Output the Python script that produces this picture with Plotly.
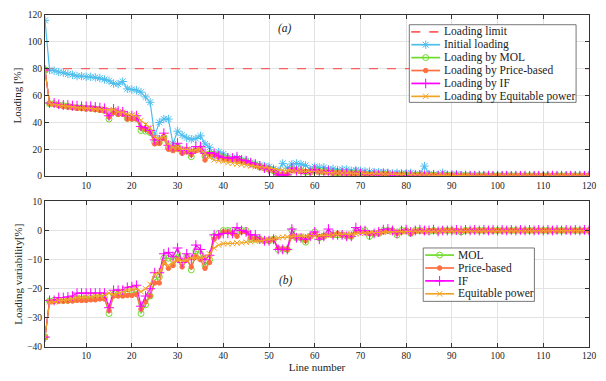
import plotly.graph_objects as go

lines = list(range(1, 121))
limit_value = 80

initial = [116, 79, 78.5, 77.5, 77, 76, 75.5, 74.5, 74.5, 74,
           74, 73.5, 73, 72, 71, 69, 68.5, 70.5, 65, 64.5,
           64, 62.5, 59, 55, 30, 40, 42.5, 42.5, 24, 33.5,
           30.5, 28.5, 27.5, 28, 30, 24, 21.5, 15, 18, 16.5,
           14, 13, 13.5, 12, 11.5, 10, 9, 8, 7.5, 7,
           5.5, 4, 9.5, 6, 9, 9.5, 9, 8, 5, 7,
           6.5, 6.5, 5, 5.5, 4.5, 5, 5, 4, 4.5, 4,
           3.5, 3.5, 3, 3, 3, 2.5, 2, 2.5, 2, 2,
           2.5, 1.5, 1.5, 7.5, 1.5, 1.2, 1, 2.5, 1, 1,
           1.5, 0.8, 0.7, 0.6, 0.6, 0.5, 0.5, 0.5, 0.4, 0.4,
           0.4, 0.4, 0.3, 0.3, 0.3, 0.3, 0.3, 0.3, 0.3, 0.3,
           0.3, 0.3, 0.3, 0.3, 0.3, 0.3, 0.3, 0.3, 0.3, 0.3]

load_mol = [79, 54, 54, 53, 52.5, 52, 51.5, 51, 51, 50.5,
            50.5, 50, 49.5, 49, 42.5, 48, 46.5, 47, 43, 43,
            43, 34, 33.5, 32.5, 25, 25, 29, 21, 20, 22,
            18, 19, 14.5, 20, 20.5, 15, 16.5, 16.5, 15, 14,
            13, 12.5, 12.5, 11.5, 11, 9.5, 8.5, 7, 6, 5,
            4, 1, 1, 1, 5, 4.5, 4, 3, 3, 4.5,
            3.5, 3.5, 3, 2.5, 2.5, 2.5, 2, 2, 2.5, 2,
            1.5, 0.5, 1, 1, 1.5, 1.5, 1, 0.2, 1, 1,
            0.5, 0.8, 0.8, 0.7, 0.5, 0.8, 0.4, 0.6, 0.5, 0.4,
            0.5, 0.2, 0.4, 0.3, 0.3, 0.3, 0.3, 0.3, 0.3, 0.3,
            0.3, 0.3, 0.3, 0.3, 0.3, 0.3, 0.3, 0.3, 0.3, 0.3,
            0.3, 0.3, 0.3, 0.3, 0.3, 0.3, 0.3, 0.3, 0.3, 0.3]

load_price = [79, 54, 53.5, 52.5, 52, 51.5, 51, 50.5, 50.5, 50,
              50, 49.5, 49, 48.5, 44, 47.5, 46, 46, 42.5, 42.5,
              42.5, 36, 35, 33, 24, 24.5, 28, 20, 19, 20,
              17, 18, 16, 19, 19.5, 12, 16, 16, 14.5, 13,
              13, 12.5, 12, 11, 10.5, 9, 8, 7, 6, 5,
              4, 1.5, 1.5, 1.5, 4, 4, 3.5, 3.5, 3, 4,
              3.5, 3, 3, 2.5, 2.5, 2.5, 2, 2, 2, 2,
              1.5, 1.5, 1, 1, 1.5, 1.5, 1, 1, 1, 0.5,
              0.5, 0.7, 0.8, 0.8, 0.6, 0.6, 0.5, 0.6, 0.5, 0.4,
              0.4, 0.3, 0.3, 0.3, 0.3, 0.3, 0.3, 0.3, 0.3, 0.3,
              0.3, 0.3, 0.3, 0.3, 0.3, 0.3, 0.3, 0.3, 0.3, 0.3,
              0.3, 0.3, 0.3, 0.3, 0.3, 0.3, 0.3, 0.3, 0.3, 0.3]

load_if = [79, 54.5, 54.5, 53.5, 53, 53, 52.5, 52.5, 52, 52,
           52, 51.5, 51, 50.5, 45, 50, 48.5, 48, 45, 45,
           45, 37, 36, 34, 27, 27, 32, 23, 22, 24.5,
           19, 21, 17, 22, 22, 17, 17.5, 17, 15, 14,
           13.5, 13.5, 14.5, 12, 11.5, 10, 9, 7.5, 6, 5,
           4, 1, 1, 1, 6, 4, 4, 2, 3, 5,
           2.5, 3.5, 4, 2.5, 2.5, 2.5, 2, 1.5, 3, 2,
           1.5, 1, 1.5, 1, 1.5, 1.5, 0.5, 0.5, 1, 1,
           0.8, 0.4, 0.9, 0.6, 0.5, 1, 0.3, 0.5, 0.3, 0.4,
           0.5, 0.2, 0.4, 0.3, 0.2, 0.4, 0.2, 0.3, 0.2, 0.3,
           0.2, 0.3, 0.2, 0.3, 0.2, 0.3, 0.2, 0.3, 0.2, 0.3,
           0.2, 0.3, 0.2, 0.3, 0.2, 0.3, 0.2, 0.3, 0.2, 0.3]

load_eq = [79, 54, 53.5, 53, 52.5, 52, 51.5, 51, 51, 50.5,
           50.5, 50, 50, 49.5, 49.5, 49.5, 48, 47.5, 46, 45.5,
           45, 41.5, 38.5, 36, 29, 28, 30, 24, 21.5, 22,
           20, 20, 19, 19.5, 20, 17, 14, 12, 11.5, 11,
           10, 9.5, 9, 8.5, 8, 7.5, 7, 6.5, 6, 5.5,
           5, 4.5, 4.5, 4, 4, 3.8, 3.6, 3.4, 3.2, 3,
           3, 2.8, 2.6, 2.5, 2.4, 2.3, 2.2, 2.1, 2, 1.9,
           1.8, 1.7, 1.6, 1.5, 1.4, 1.3, 1.2, 1.1, 1.0, 1.0,
           0.9, 0.8, 0.8, 0.7, 0.7, 0.6, 0.6, 0.6, 0.5, 0.5,
           0.5, 0.4, 0.4, 0.4, 0.4, 0.3, 0.3, 0.3, 0.3, 0.3,
           0.3, 0.3, 0.3, 0.3, 0.3, 0.3, 0.3, 0.3, 0.3, 0.3,
           0.3, 0.3, 0.3, 0.3, 0.3, 0.3, 0.3, 0.3, 0.3, 0.3]

var_mol = [-36.6, -24.2, -24, -24, -24, -24, -23.8, -23.5, -23.5, -23.5,
           -23.3, -23.3, -23, -23, -28.5, -22, -22, -22, -21.8, -21.5,
           -21, -28.5, -25.5, -22.5, -17, -16, -9.5, -9.5, -10, -8,
           -11, -9, -13.5, -7, -8, -12, -10, -2, -1, 0,
           0, 0, 0, 0, 0, -3, -3, -3, -3.5, -3.5,
           -3, -6.5, -6.5, -6.5, 0, -2.5, -2.5, -4, -2, -0.5,
           -2.5, -2, -1, -1.5, -1.5, -1.5, -2, -2, 0, 0,
           0, -2, -1, -1, 0, 0, 0, -1.5, 0, 0,
           -1, 0, 0, 0, -0.3, 0, -0.3, 0, 0, 0,
           -0.3, -0.5, 0, 0, 0, 0, 0, 0, 0, 0,
           0, 0, 0, 0, 0, 0, 0, 0, 0, 0,
           0, 0, 0, 0, 0, 0, 0, 0, 0, 0]

var_price = [-36.6, -24.5, -24.3, -24.3, -24.3, -24.2, -24.2, -24, -24, -24,
             -23.8, -23.8, -23.5, -23.5, -27.5, -22.5, -22.5, -22.5, -22.3, -22.3,
             -22, -27, -24.5, -22.5, -18, -18, -11, -13, -12, -10,
             -12.5, -10, -12.5, -9, -10, -13, -11, -3, -2, -0.5,
             -0.5, -1, -2, -0.5, -0.5, -2.5, -3, -3, -3.5, -3.5,
             -3, -6, -6.3, -6.5, -2, -2.5, -2.5, -3.5, -2, -1,
             -2, -2, -1.5, -1.5, -1, -1.5, -2, -2, -0.5, -0.5,
             -0.5, -1, -1, -1, -0.5, 0, 0, -1, -0.5, 0,
             -1, -0.3, 0, -0.5, 0, 0, -0.2, 0, 0, 0,
             0, -0.2, 0, 0, 0, 0, 0, 0, 0, 0,
             0, 0, 0, 0, 0, 0, 0, 0, 0, 0,
             0, 0, 0, 0, 0, 0, 0, 0, 0, 0]

var_if = [-36.6, -24, -24, -23, -23, -22.8, -22.5, -21.5, -21.5, -21.5,
          -21.5, -21.5, -21.5, -21.5, -26.5, -20.5, -20.5, -20.5, -19.5, -19.3,
          -18.8, -26, -22.5, -20, -14.5, -14.5, -8, -7.5, -9, -6,
          -11, -8, -10, -5, -6.5, -10, -8.5, -1.5, -1.5, -1,
          -1, -1, 1, 0, -0.5, -1.5, -1.5, -3, -3.5, -3.5,
          -3, -6.5, -6.5, -6.5, 0.5, -2.5, -2.5, -3, -2, -0.5,
          -3, -2, 0.5, -1.5, -1.5, -1.5, -2, -2, 1, 0,
          0, -1.5, -1, -0.5, 0.3, 0.5, 0, -1, 0, 0.3,
          -0.5, 0, 0.3, 0, 0, 0.3, -0.3, 0, 0, 0,
          0.2, 0, 0.2, 0, 0.2, 0, 0.2, 0, 0.2, 0,
          0.2, 0, 0.2, 0, 0.2, 0, 0.2, 0, 0.2, 0,
          0.2, 0, 0.2, 0, 0.2, 0, 0.2, 0, 0.2, 0]

var_eq = [-36.6, -24.5, -24.5, -24, -24, -23.8, -23.5, -23, -23, -22.8,
          -22.8, -22.5, -22.5, -22.3, -21.5, -22, -21.5, -21, -20.5, -20.3,
          -20, -21, -20, -18.5, -15, -14.5, -11, -12, -11, -10,
          -10.5, -10, -9.5, -9.5, -9.5, -9, -8, -6, -5, -4.5,
          -4.5, -4.5, -4.3, -4.2, -4, -3.8, -3.6, -3.5, -3.3, -3.1,
          -3, -2.5, -2.3, -2.2, -2.1, -2, -2, -2, -1.9, -1.8,
          -1.8, -1.7, -1.6, -1.5, -1.5, -1.4, -1.3, -1.2, -1.1, -1,
          -0.9, -0.8, -0.8, -0.7, -0.6, -0.5, -0.5, -0.4, -0.4, -0.3,
          -0.3, -0.2, -0.2, -0.2, -0.1, -0.1, -0.1, 0, 0, 0,
          0, 0, 0, 0, 0, 0, 0, 0, 0, 0,
          0, 0, 0, 0, 0, 0, 0, 0, 0, 0,
          0, 0, 0, 0, 0, 0, 0, 0, 0, 0]

C_LIMIT = "#FF5E5E"
C_INIT = "#4DBEEE"
C_MOL = "#6EDC2C"
C_PRICE = "#FF6F3F"
C_IF = "#FF00FF"
C_EQ = "#F2A428"

FONT = "Liberation Serif"

# style per series: (colour, marker symbol, marker size, dash)
STYLE = {
    "limit": (C_LIMIT, None, 0, "dash"),
    "init": (C_INIT, "asterisk-open", 7, None),
    "mol": (C_MOL, "circle-open", 6, None),
    "price": (C_PRICE, "circle", 4.5, None),
    "if": (C_IF, "cross-thin-open", 7, None),
    "eq": (C_EQ, "x-thin-open", 5.5, None),
}

fig = go.Figure()


def add(x, y, key, xaxis, yaxis, mode="lines+markers"):
    color, symbol, size, dash = STYLE[key]
    fig.add_trace(go.Scatter(
        x=x, y=y, mode=mode, xaxis=xaxis, yaxis=yaxis, showlegend=False,
        line=dict(color=color, width=1.2, dash=dash),
        marker=dict(symbol=symbol, size=size, color=color, line=dict(color=color, width=1)),
        hoverinfo="skip",
    ))


# top subplot
add([lines[0], lines[-1]], [limit_value, limit_value], "limit", "x", "y", mode="lines")
add(lines, initial, "init", "x", "y")
add(lines, load_mol, "mol", "x", "y")
add(lines, load_price, "price", "x", "y")
add(lines, load_if, "if", "x", "y")
add(lines, load_eq, "eq", "x", "y")

# bottom subplot
add(lines, var_mol, "mol", "x2", "y2")
add(lines, var_price, "price", "x2", "y2")
add(lines, var_if, "if", "x2", "y2")
add(lines, var_eq, "eq", "x2", "y2")

# ---- legends drawn on a pixel overlay (x3/y3 spans the full plot area) ----
ML, MR, MT, MB = 45, 13, 10, 29
W, H = 606, 381
PW, PH = W - ML - MR, H - MT - MB

annotations = []


def legend_box(x0, y0, x1, y1, items, row0, row_h, line_x0, line_x1, text_x, fsize):
    fig.add_trace(go.Scatter(
        x=[x0 - ML, x1 - ML, x1 - ML, x0 - ML, x0 - ML],
        y=[y0 - MT, y0 - MT, y1 - MT, y1 - MT, y0 - MT],
        mode="lines", fill="toself", fillcolor="white",
        line=dict(color="#555555", width=0.8), xaxis="x3", yaxis="y3",
        showlegend=False, hoverinfo="skip"))
    for i, (label, key) in enumerate(items):
        color, symbol, size, dash = STYLE[key]
        yy = row0 + i * row_h - MT
        fig.add_trace(go.Scatter(
            x=[line_x0 - ML, line_x1 - ML], y=[yy, yy], mode="lines",
            line=dict(color=color, width=1.7, dash=dash), xaxis="x3", yaxis="y3",
            showlegend=False, hoverinfo="skip"))
        if symbol:
            fig.add_trace(go.Scatter(
                x=[(line_x0 + line_x1) / 2 - ML], y=[yy], mode="markers",
                marker=dict(symbol=symbol, size=size, color=color, line=dict(color=color, width=1)),
                xaxis="x3", yaxis="y3", showlegend=False, hoverinfo="skip"))
        annotations.append(dict(
            text=label, x=text_x - ML, y=yy, xref="x3", yref="y3", xanchor="left",
            yanchor="middle", showarrow=False, font=dict(family=FONT, size=fsize, color="#222222")))


legend_box(412, 20, 580, 100,
           [("Loading limit", "limit"), ("Initial loading", "init"),
            ("Loading by MOL", "mol"), ("Loading by Price-based", "price"),
            ("Loading by IF", "if"), ("Loading by Equitable power", "eq")],
           27.3, 13.3, 414, 443, 445, 11.5)

legend_box(426, 250, 538, 305,
           [("MOL", "mol"), ("Price-based", "price"), ("IF", "if"),
            ("Equitable power", "eq")],
           257.3, 13.3, 428, 457, 459, 11.5)

axis_common = dict(
    showline=True, linecolor="#333333", linewidth=1, mirror="ticks",
    ticks="inside", ticklen=4, tickcolor="#333333",
    showgrid=True, gridcolor="#E3E3E3", gridwidth=1, zeroline=False,
    tickfont=dict(family=FONT, size=9.5, color="#222222"),
)

top_lo = (H - MB - 176) / PH
bot_hi = (H - MB - 202) / PH

annotations += [
    dict(text="<i>(a)</i>", x=53.5, y=109.6, xref="x", yref="y", showarrow=False,
         font=dict(family=FONT, size=11.5, color="#222222")),
    dict(text="<i>(b)</i>", x=53.8, y=-17, xref="x2", yref="y2", showarrow=False,
         font=dict(family=FONT, size=11.5, color="#222222")),
]

fig.update_layout(
    width=W, height=H,
    margin=dict(l=ML, r=MR, t=MT, b=MB),
    paper_bgcolor="white", plot_bgcolor="rgba(0,0,0,0)",
    showlegend=False,
    font=dict(family=FONT, size=11, color="#222222"),
    xaxis=dict(domain=[0, 1], anchor="y", range=[1, 120], tick0=0, dtick=10, **axis_common),
    yaxis=dict(domain=[top_lo, 1], anchor="x", range=[0, 120], dtick=20,
               title=dict(text="Loading [%]", standoff=3, font=dict(family=FONT, size=11)),
               **axis_common),
    xaxis2=dict(domain=[0, 1], anchor="y2", range=[1, 120], tick0=0, dtick=10,
                title=dict(text="Line number", standoff=2, font=dict(family=FONT, size=11)),
                **axis_common),
    yaxis2=dict(domain=[0, bot_hi], anchor="x2", range=[-40, 10], dtick=10,
                title=dict(text="Loading variability[%]", standoff=2, font=dict(family=FONT, size=11)),
                **axis_common),
    xaxis3=dict(domain=[0, 1], anchor="y3", range=[0, PW], visible=False, fixedrange=True),
    yaxis3=dict(domain=[0, 1], anchor="x3", range=[PH, 0], visible=False, fixedrange=True),
    annotations=annotations,
)

fig.write_html("out.html")
